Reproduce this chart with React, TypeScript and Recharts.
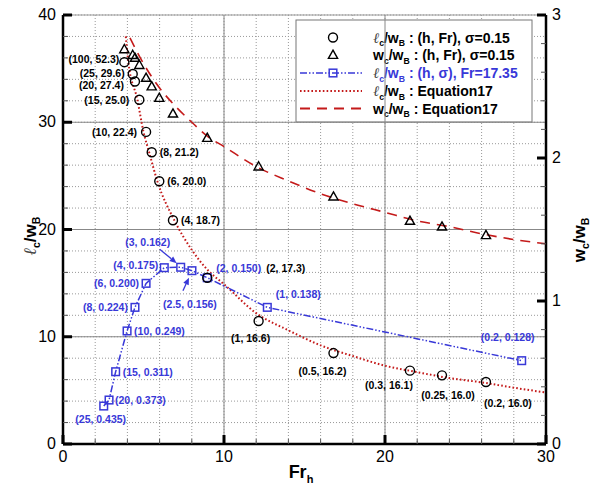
import React from "react"
import { ComposedChart, Line, Scatter, XAxis, YAxis, CartesianGrid, ReferenceLine, Customized } from "recharts"

// axis ticks (minor + labelled)
const xTicks = [0, 2, 4, 6, 8, 10, 12, 14, 16, 18, 20, 22, 24, 26, 28, 30]
const xTickLabels = [0, 10, 20, 30]
const leftTicks = [0, 2, 4, 6, 8, 10, 12, 14, 16, 18, 20, 22, 24, 26, 28, 30, 32, 34, 36, 38, 40]
const leftTickLabels = [0, 10, 20, 30, 40]
const rightTicks = [0, 0.2, 0.4, 0.6, 0.8, 1, 1.2, 1.4, 1.6, 1.8, 2, 2.2, 2.4, 2.6, 2.8, 3]
const rightTickLabels = [0, 1, 2, 3]

// runs varying (h, Fr) at sigma = 0.15
const runFr = [3.81, 4.33, 4.47, 4.74, 5.16, 5.51, 5.98, 6.83, 8.96, 12.15, 16.8, 21.55, 23.54, 26.27]
const runLc = [35.6, 34.5, 33.8, 32.1, 29.1, 27.2, 24.5, 20.86, 15.5, 11.47, 8.48, 6.84, 6.4, 5.78]
const runWc = [2.76, 2.72, 2.7, 2.65, 2.56, 2.5, 2.42, 2.31, 2.14, 1.94, 1.73, 1.56, 1.52, 1.46]
const runTags = [
  "(100, 52.3)", "(25, 29.6)", "(20, 27.4)", "(15, 25.0)", "(10, 22.4)", "(8, 21.2)", "(6, 20.0)",
  "(4, 18.7)", "(2, 17.3)", "(1, 16.6)", "(0.5, 16.2)", "(0.3, 16.1)", "(0.25, 16.0)", "(0.2, 16.0)",
]

// runs varying (h, sigma) at Fr = 17.35
const sigmaFr = [2.53, 2.86, 3.27, 3.98, 4.47, 5.16, 6.29, 7.31, 8.01, 8.96, 12.69, 28.49]
const sigmaLc = [3.54, 4.1, 6.74, 10.54, 12.74, 14.98, 16.44, 16.48, 16.16, 15.5, 12.74, 7.77]
const sigmaTags = [
  "(25, 0.435)", "(20, 0.373)", "(15, 0.311)", "(10, 0.249)", "(8, 0.224)", "(6, 0.200)",
  "(4, 0.175)", "(3, 0.162)", "(2.5, 0.156)", "(2, 0.150)", "(1, 0.138)", "(0.2, 0.128)",
]

// Equation 17 curves
const eqLcFr = [3.9, 4.06, 4.62, 5.0, 5.35, 5.86, 6.9, 8, 9, 10, 12, 14, 16, 18, 20, 22, 24, 26, 28, 30]
const eqLc = [38.0, 35.6, 32.1, 29.1, 27.2, 24.5, 20.9, 18.1, 16.2, 14.9, 12.2, 10.6, 9.2, 8.2, 7.3, 6.7, 6.15, 5.75, 5.25, 4.8]
const eqWcFr = [4.16, 5, 6, 7, 8, 9, 10, 12, 14, 16, 18, 20, 22, 24, 26, 28, 30]
const eqWc = [2.84, 2.66, 2.49, 2.36, 2.25, 2.15, 2.08, 1.94, 1.84, 1.75, 1.68, 1.62, 1.56, 1.52, 1.47, 1.43, 1.4]

const runLcData = runFr.map((x, i) => ({ x, y: runLc[i], tag: runTags[i], i }))
const runWcData = runFr.map((x, i) => ({ x, y: runWc[i] }))
const sigmaData = sigmaFr.map((x, i) => ({ x, y: sigmaLc[i], tag: sigmaTags[i], i }))
const eqLcData = eqLcFr.map((x, i) => ({ x, y: eqLc[i] }))
const eqWcData = eqWcFr.map((x, i) => ({ x, y: eqWc[i] }))

// label placement in pixels relative to the marker: [dx, dy, anchor]
const runTagPlace: [number, number, string][] = [
  [-5, -3, "end"], [-8, -1, "end"], [-11, 4, "end"], [-10, 0, "end"], [-9, 0, "end"], [8, 0, "start"],
  [8, 0, "start"], [8, 0, "start"], [59, -10, "start"], [-8, 17, "middle"], [-11, 18, "middle"],
  [-21, 14, "middle"], [6, 20, "middle"], [22, 21, "middle"],
]
const sigmaTagPlace: [number, number, string][] = [
  [-3, 13, "middle"], [6, 0, "start"], [7, 0, "start"], [7, 0, "start"], [-7, 0, "end"], [-7, 0, "end"],
  [-6, -3, "end"], [-33, -25, "middle"], [-2, 33, "middle"], [9, -10, "start"], [31, -13, "middle"],
  [-14, -24, "middle"],
]
// arrows from label to marker: index -> [x0, y0, x1, y1] relative to marker
const sigmaArrows: Record<number, number[]> = {
  7: [-21, -18, -4, -4],
  8: [-9, 20, -3, 7],
}

const BLUE = "#3838d8"
const RED = "#c41a1a"
const FONT = "'Liberation Sans', Arial, sans-serif"
const ELL = "'DejaVu Serif', serif"

function makeTick(side: "left" | "right" | "bottom", labels: number[]) {
  return (props: any) => {
    const { x, y, payload } = props
    const v = payload.value
    const major = labels.some((l) => Math.abs(l - v) < 1e-6)
    const len = major ? 9 : 5
    const line = { stroke: major ? "#000" : "#555", strokeWidth: major ? 3 : 1 }
    if (side === "left")
      return (
        <g>
          <line x1={x} y1={y} x2={x + len} y2={y} {...line} />
          {major && (
            <text x={x - 7} y={y} dy={5} textAnchor="end" fontSize={16} fontFamily={FONT} fill="#000">
              {v}
            </text>
          )}
        </g>
      )
    if (side === "right")
      return (
        <g>
          <line x1={x} y1={y} x2={x - len} y2={y} {...line} />
          {major && (
            <text x={x + 6} y={y} dy={5} textAnchor="start" fontSize={16} fontFamily={FONT} fill="#000">
              {v}
            </text>
          )}
        </g>
      )
    return (
      <g>
        <line x1={x} y1={y} x2={x} y2={y - len} {...line} />
        {major && (
          <text x={x} y={y + 18} textAnchor="middle" fontSize={16} fontFamily={FONT} fill="#000">
            {v}
          </text>
        )}
      </g>
    )
  }
}

const Circle = (p: any) => <circle cx={p.cx} cy={p.cy} r={4.5} fill="none" stroke="#000" strokeWidth={1.4} />
const Triangle = (p: any) => (
  <path
    d={`M${p.cx},${p.cy - 4.8} L${p.cx + 4.6},${p.cy + 3.4} L${p.cx - 4.6},${p.cy + 3.4} Z`}
    fill="none"
    stroke="#000"
    strokeWidth={1.4}
  />
)
const Square = (p: any) => (
  <rect key={`sq-${p.index}`} x={p.cx - 3.8} y={p.cy - 3.8} width={7.6} height={7.6} fill="none" stroke={BLUE} strokeWidth={1.5} />
)

const RunTag = (p: any) => {
  const i = p.payload.i
  const [dx, dy, anchor] = runTagPlace[i]
  return (
    <text x={p.cx + dx} y={p.cy + dy} dy={4} textAnchor={anchor as any} fontSize={10.5} fontWeight="bold" fontFamily={FONT} fill="#000">
      {p.payload.tag}
    </text>
  )
}

const SigmaTag = (p: any) => {
  const i = p.payload.i
  const [dx, dy, anchor] = sigmaTagPlace[i]
  const arr = sigmaArrows[i]
  let arrow = null
  if (arr) {
    const [x0, y0, x1, y1] = arr.map((v, k) => v + (k % 2 === 0 ? p.cx : p.cy))
    const ang = Math.atan2(y1 - y0, x1 - x0)
    const hl = 7
    const hw = 3
    const bx = x1 - hl * Math.cos(ang)
    const by = y1 - hl * Math.sin(ang)
    arrow = (
      <g>
        <line x1={x0} y1={y0} x2={bx} y2={by} stroke={BLUE} strokeWidth={1.3} />
        <path
          d={`M${x1},${y1} L${bx - hw * Math.sin(ang)},${by + hw * Math.cos(ang)} L${bx + hw * Math.sin(ang)},${by - hw * Math.cos(ang)} Z`}
          fill={BLUE}
        />
      </g>
    )
  }
  return (
    <g>
      {arrow}
      <text x={p.cx + dx} y={p.cy + dy} dy={4} textAnchor={anchor as any} fontSize={10.5} fontWeight="bold" fontFamily={FONT} fill={BLUE}>
        {p.payload.tag}
      </text>
    </g>
  )
}

// ℓc/wB or wc/wB with subscripts
function Ratio({ first, size }: { first: "l" | "w"; size: number }) {
  const sub = size * 0.62
  const shift = size * 0.25
  return (
    <>
      {first === "l" ? (
        <tspan fontFamily={ELL} fontStyle="italic" fontWeight="normal" fill="#444" fontSize={size * 1.05}>
          ℓ
        </tspan>
      ) : (
        <tspan>w</tspan>
      )}
      <tspan fontSize={sub} dy={shift}>
        c
      </tspan>
      <tspan dy={-shift}>/w</tspan>
      <tspan fontSize={sub} dy={shift}>
        B
      </tspan>
      <tspan dy={-shift}> </tspan>
    </>
  )
}

function LegendBox() {
  const x0 = 296
  const rows = [37.5, 55, 73, 91, 108.5]
  const fs = 14
  const tx = 373
  return (
    <g fontFamily={FONT} fontWeight="bold" fontSize={fs}>
      <rect x={x0} y={20} width={236} height={102} fill="#fff" stroke="#777" strokeWidth={1} />
      <Circle cx={333} cy={rows[0]} />
      <Triangle cx={333} cy={rows[1]} />
      <line x1={300} y1={rows[2]} x2={362} y2={rows[2]} stroke={BLUE} strokeWidth={1.5} strokeDasharray="7 2 1.5 2 1.5 2" />
      <Square cx={333} cy={rows[2]} index={0} />
      <line x1={300} y1={rows[3]} x2={362} y2={rows[3]} stroke={RED} strokeWidth={2} strokeDasharray="1.6 2.2" />
      <line x1={300} y1={rows[4]} x2={362} y2={rows[4]} stroke={RED} strokeWidth={2} strokeDasharray="10 7" />
      <text x={tx} y={rows[0] + 5} fill="#000">
        <Ratio first="l" size={fs} />
        : (h, Fr), σ=0.15
      </text>
      <text x={tx} y={rows[1] + 5} fill="#000">
        <Ratio first="w" size={fs} />
        : (h, Fr), σ=0.15
      </text>
      <text x={tx} y={rows[2] + 5} fill={BLUE}>
        <Ratio first="l" size={fs} />
        : (h, σ), Fr=17.35
      </text>
      <text x={tx} y={rows[3] + 5} fill="#000">
        <Ratio first="l" size={fs} />
        : Equation17
      </text>
      <text x={tx} y={rows[4] + 5} fill="#000">
        <Ratio first="w" size={fs} />
        : Equation17
      </text>
    </g>
  )
}

function AxisTitles() {
  return (
    <g fontFamily={FONT} fontWeight="bold" fill="#000">
      <text x={301} y={478} textAnchor="middle" fontSize={18}>
        Fr
        <tspan fontSize={11} dy={5}>
          h
        </tspan>
      </text>
      <text transform="translate(36,236) rotate(-90)" textAnchor="middle" fontSize={17}>
        <Ratio first="l" size={17} />
      </text>
      <text transform="translate(585,240) rotate(-90)" textAnchor="middle" fontSize={17}>
        <Ratio first="w" size={17} />
      </text>
    </g>
  )
}

export default function App() {
  return (
    <div style={{ position: "absolute", left: 0, top: 0, background: "#fff" }}>
      <ComposedChart width={595} height={486} margin={{ top: 15, right: 0, bottom: 0, left: 0 }}>
        <CartesianGrid yAxisId="left" stroke="#999" strokeDasharray="1 2" strokeWidth={1} />
        <XAxis
          type="number"
          dataKey="x"
          domain={[0, 30]}
          ticks={xTicks}
          interval={0}
          allowDataOverflow
          height={42}
          tickLine={false}
          tickSize={0}
          tickMargin={0}
          tick={makeTick("bottom", xTickLabels)}
          axisLine={{ stroke: "#000", strokeWidth: 2.5 }}
        />
        <YAxis
          yAxisId="left"
          type="number"
          dataKey="y"
          domain={[0, 40]}
          ticks={leftTicks}
          interval={0}
          allowDataOverflow
          width={63}
          tickLine={false}
          tickSize={0}
          tickMargin={0}
          tick={makeTick("left", leftTickLabels)}
          axisLine={{ stroke: "#000", strokeWidth: 2.5 }}
        />
        <YAxis
          yAxisId="right"
          orientation="right"
          type="number"
          dataKey="y"
          domain={[0, 3]}
          ticks={rightTicks}
          interval={0}
          allowDataOverflow
          width={49}
          tickLine={false}
          tickSize={0}
          tickMargin={0}
          tick={makeTick("right", rightTickLabels)}
          axisLine={{ stroke: "#000", strokeWidth: 2.5 }}
        />
        {[10, 20, 30].map((v) => (
          <ReferenceLine key={`h${v}`} yAxisId="left" y={v} stroke="#888" strokeWidth={1} />
        ))}
        {[10, 20].map((v) => (
          <ReferenceLine key={`v${v}`} yAxisId="left" x={v} stroke="#888" strokeWidth={1} />
        ))}
        <ReferenceLine yAxisId="left" y={40} stroke="#999" strokeWidth={1} />
        <Line
          yAxisId="left"
          data={eqLcData}
          dataKey="y"
          type="monotone"
          stroke={RED}
          strokeWidth={2}
          strokeDasharray="1.6 2.2"
          dot={false}
          activeDot={false}
          isAnimationActive={false}
        />
        <Line
          yAxisId="right"
          data={eqWcData}
          dataKey="y"
          type="monotone"
          stroke={RED}
          strokeWidth={1.6}
          strokeDasharray="10 7"
          dot={false}
          activeDot={false}
          isAnimationActive={false}
        />
        <Line
          yAxisId="left"
          data={sigmaData}
          dataKey="y"
          type="linear"
          stroke={BLUE}
          strokeWidth={1.5}
          strokeDasharray="7 2 1.5 2 1.5 2"
          dot={(p: any) => <Square key={`d-${p.index}`} cx={p.cx} cy={p.cy} index={p.index} />}
          activeDot={false}
          isAnimationActive={false}
        />
        <Scatter yAxisId="left" data={runLcData} dataKey="y" shape={Circle} isAnimationActive={false} />
        <Scatter yAxisId="right" data={runWcData} dataKey="y" shape={Triangle} isAnimationActive={false} />
        <Scatter yAxisId="left" data={runLcData} dataKey="y" shape={RunTag} isAnimationActive={false} />
        <Scatter yAxisId="left" data={sigmaData} dataKey="y" shape={SigmaTag} isAnimationActive={false} />
        <Customized component={<AxisTitles />} />
        <Customized component={<LegendBox />} />
      </ComposedChart>
    </div>
  )
}
